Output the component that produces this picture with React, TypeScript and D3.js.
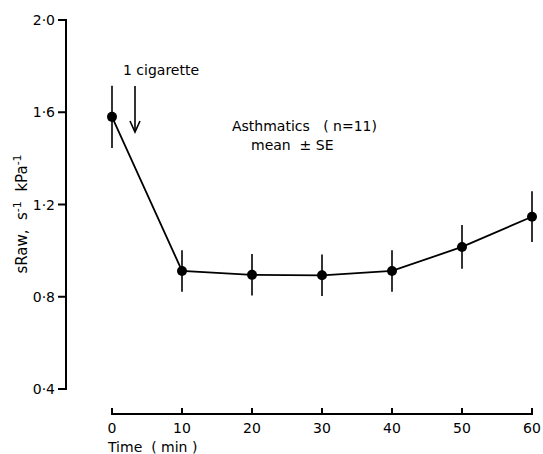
import React, { useEffect, useRef } from 'react';
import * as d3 from 'd3';

// Time points (min) and mean sRaw with SE
const times = [0, 10, 20, 30, 40, 50, 60];
const means = [1.58, 0.912, 0.895, 0.893, 0.912, 1.016, 1.147];
const errors = [0.135, 0.09, 0.09, 0.09, 0.09, 0.095, 0.11];
const yTicks = [0.4, 0.8, 1.2, 1.6, 2.0];
const xTicks = [0, 10, 20, 30, 40, 50, 60];

const App = () => {
    const ref = useRef<SVGSVGElement>(null);

    useEffect(() => {
        const svg = d3.select(ref.current);
        svg.selectAll('*').remove();

        const font = 'DejaVu Sans, sans-serif';
        const fs = 14;
        const x = d3.scaleLinear().domain([0, 60]).range([112, 532]);
        const y = d3.scaleLinear().domain([0.4, 2.0]).range([389, 20]);
        const fmt = (v: number) => v.toFixed(1).replace('.', '·');

        // y axis (ticks point left)
        const yAxis = svg.append('g').attr('transform', 'translate(66,0)');
        yAxis.append('line')
            .attr('y1', y(2.0) - 1).attr('y2', y(0.4) + 1)
            .attr('stroke', '#000').attr('stroke-width', 2);
        const yt = yAxis.selectAll('.yt').data(yTicks).enter().append('g')
            .attr('transform', d => `translate(0,${y(d)})`);
        yt.append('line').attr('x1', -8).attr('x2', 0)
            .attr('stroke', '#000').attr('stroke-width', 2);
        yt.append('text').attr('x', -11).attr('dy', '0.36em')
            .attr('text-anchor', 'end').attr('font-family', font)
            .attr('font-size', fs).text(d => fmt(d));

        // x axis, detached below (ticks point up)
        const xAxis = svg.append('g').attr('transform', 'translate(0,414)');
        xAxis.append('line')
            .attr('x1', x(0) - 1).attr('x2', x(60) + 1)
            .attr('stroke', '#000').attr('stroke-width', 2);
        const xt = xAxis.selectAll('.xt').data(xTicks).enter().append('g')
            .attr('transform', d => `translate(${x(d)},0)`);
        xt.append('line').attr('y1', -6).attr('y2', 0)
            .attr('stroke', '#000').attr('stroke-width', 2);
        xt.append('text').attr('y', 19)
            .attr('text-anchor', 'middle').attr('font-family', font)
            .attr('font-size', fs).text(d => String(d));

        svg.append('text').attr('x', 108).attr('y', 452)
            .attr('font-family', font).attr('font-size', fs)
            .attr('xml:space', 'preserve')
            .text('Time  ( min )');

        // y label
        const yl = svg.append('text')
            .attr('transform', 'translate(27,214) rotate(-90)')
            .attr('text-anchor', 'middle').attr('font-family', font)
            .attr('font-size', 15);
        yl.append('tspan').attr('xml:space', 'preserve').text('sRaw,  s');
        yl.append('tspan').attr('dy', -6).attr('font-size', 11).text('-1');
        yl.append('tspan').attr('dy', 6).attr('xml:space', 'preserve').text('  kPa');
        yl.append('tspan').attr('dy', -6).attr('font-size', 11).text('-1');

        // error bars
        svg.selectAll('.err').data(times).enter().append('line')
            .attr('x1', d => x(d)).attr('x2', d => x(d))
            .attr('y1', (d, i) => y(means[i] + errors[i]))
            .attr('y2', (d, i) => y(means[i] - errors[i]))
            .attr('stroke', '#000').attr('stroke-width', 1.6);

        // line
        const line = d3.line<number>()
            .x(d => x(d))
            .y((d, i) => y(means[i]));
        svg.append('path').attr('d', line(times))
            .attr('fill', 'none').attr('stroke', '#000').attr('stroke-width', 1.8);

        // points
        svg.selectAll('.pt').data(times).enter().append('circle')
            .attr('cx', d => x(d)).attr('cy', (d, i) => y(means[i]))
            .attr('r', 5).attr('fill', '#000');

        // annotations
        svg.append('text').attr('x', 123).attr('y', 75)
            .attr('font-family', font).attr('font-size', fs)
            .text('1 cigarette');
        svg.append('line').attr('x1', 135).attr('x2', 135)
            .attr('y1', 86).attr('y2', 131)
            .attr('stroke', '#000').attr('stroke-width', 1.6);
        svg.append('path').attr('d', 'M130,121 L135,132 L140,121')
            .attr('fill', 'none').attr('stroke', '#000').attr('stroke-width', 1.6);

        svg.append('text').attr('x', 232).attr('y', 131)
            .attr('font-family', font).attr('font-size', fs)
            .attr('xml:space', 'preserve')
            .text('Asthmatics   ( n=11)');
        svg.append('text').attr('x', 251).attr('y', 150)
            .attr('font-family', font).attr('font-size', fs)
            .attr('xml:space', 'preserve')
            .text('mean  ± SE');
    }, []);

    return (
        <svg ref={ref} width={543} height={454}
            style={{ position: 'absolute', left: 0, top: 0, background: '#fff' }} />
    );
};

export default App;
